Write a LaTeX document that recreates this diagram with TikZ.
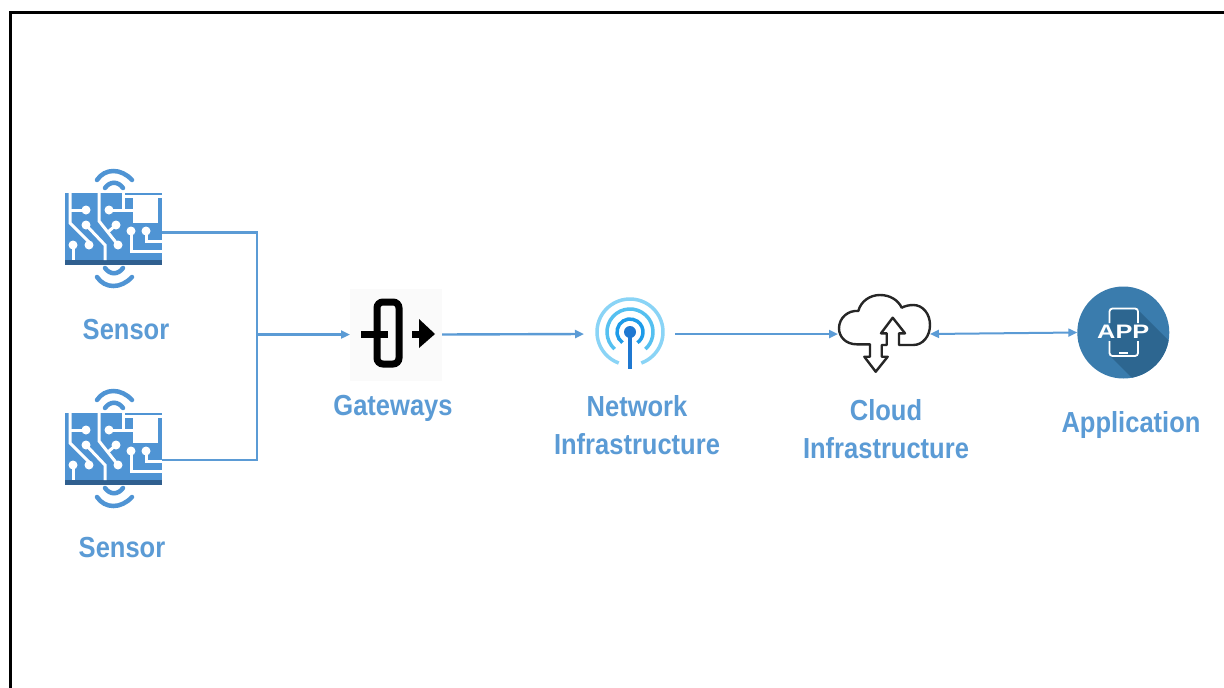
\documentclass[tikz,border=0pt]{standalone}
\usepackage{xcolor}
\usepackage{fontspec}
\setmainfont[FakeStretch=0.88]{Liberation Sans}
\newfontfamily\appfont[FakeStretch=1.3]{Liberation Sans}
\usetikzlibrary{arrows.meta}
\definecolor{wireblue}{HTML}{5B9BD5}
\definecolor{chipblue}{HTML}{4F94D4}
\definecolor{chipdark}{HTML}{2F5F8F}
\definecolor{appblue}{HTML}{3A7CAD}
\definecolor{appdark}{HTML}{2D6690}
\definecolor{ringouter}{HTML}{8AD4F6}
\definecolor{ringmiddle}{HTML}{55C0F0}
\definecolor{ringinner}{HTML}{1E9BE8}
\definecolor{mastblue}{HTML}{1F78D1}
\tikzset{
	wire/.style={wireblue, line width=2.4pt},
	flow/.style={wire, -{Triangle[length=9pt,width=8pt]}},
	duplex/.style={wire, line width=2pt, {Triangle[length=9pt,width=8pt]}-{Triangle[length=9pt,width=8pt]}},
	caption/.style={font=\fontsize{29}{38}\selectfont\bfseries, text=wireblue, align=center},
	anchorbox/.style={minimum width=#1, inner sep=0pt, outer sep=0pt},
	trace/.style={white, line width=3pt},
	sensorchip/.pic={
		\fill[chipblue] (0,0) rectangle (97,72);
		\fill[chipdark] (0,67) rectangle (97,72);
		\fill[white] (68,5) rectangle (93,30);
		% traces
		\draw[trace] (5,0) -- (5,30) -- (25,50);
		\draw[trace] (5,17) -- (21,17);
		\draw[trace] (21,32) -- (40,52) -- (40,67);
		\draw[trace] (34,0) -- (34,28) -- (53,52);
		\draw[trace] (44,17) -- (68,17);
		\draw[trace] (51,32) -- (43,39);
		\draw[trace] (58,0) -- (58,17);
		\draw[trace] (58,3) -- (97,3);
		\draw[trace] (66,38) -- (66,58) -- (97,58);
		\draw[trace] (81,38) -- (81,48) -- (97,48);
		\draw[trace] (8,52) -- (8,67);
		\foreach \dotx/\doty in {21/17,24/52,21/32,53/52,44/17,51/32,66/38,81/38,8/52}
			\fill[white] (\dotx,\doty) circle (4.5);
		% signal arcs
		\draw[chipblue, line width=4.5pt, line cap=round] (32,-13) .. controls (40,-25) and (56,-25) .. (67,-13);
		\draw[chipblue, line width=4.5pt, line cap=round] (40,-5) .. controls (45,-12) and (53,-12) .. (58,-5);
		\draw[chipblue, line width=4.5pt, line cap=round] (40,75) .. controls (45,82) and (53,82) .. (58,75);
		\draw[chipblue, line width=4.5pt, line cap=round] (32,84) .. controls (40,96) and (56,96) .. (67,84);
	}
}

\begin{document}
\begin{tikzpicture}[x=1pt, y=1pt, yscale=-1]
	\useasboundingbox (0,0) rectangle (1224,688);
	\fill[white] (0,0) rectangle (1224,688);
	\draw[black, line width=3pt] (10.5,688) -- (10.5,12.5) -- (1224,12.5);

	% Sensors
	\pic[transform shape] at (65,193) {sensorchip};
	\pic[transform shape] at (65,413) {sensorchip};
	\node[anchorbox=97, minimum height=60] (sensorA) at (113.5,232.5) {};
	\node[anchorbox=97, minimum height=60] (sensorB) at (113.5,460) {};
	\node[caption] (sensorAtext) at (126,330) {Sensor};
	\node[caption] (sensorBtext) at (122,548) {Sensor};
	\coordinate (busJoin) at (257,334.5);

	% Gateway
	\node[anchorbox=92, minimum height=92, fill=black!2] (gateway) at (396,334.5) {};
	\draw[black, line width=7pt, rounded corners=6pt] (377,302) rectangle (399,364);
	\draw[black, line width=7pt] (361,334) -- (388,334);
	\draw[black, line width=7pt] (412,334) -- (422,334);
	\fill[black] (419,319) -- (435,334) -- (419,348) -- cycle;
	\node[caption] (gatewaytext) at (393,408.5) {Gateways};

	% Network
	\node[anchorbox=91, minimum height=91] (network) at (629.5,334) {};
	\draw[ringouter, line width=3.5pt] (630,332) ++(110:33) arc (110:430:33);
	\draw[ringmiddle, line width=3.5pt] (630,332) ++(132:23) arc (132:408:23);
	\draw[ringinner, line width=3.5pt] (630,332) ++(125:13) arc (125:415:13);
	\draw[mastblue, line width=4.5pt] (630,332) -- (630,369);
	\fill[mastblue] (630,332) circle (6);
	\node[caption] (networktext) at (637,425) {Network\\Infrastructure};

	% Cloud
	\node[anchorbox=92, minimum height=92] (cloud) at (884,334) {};
	\draw[black!85, line width=2.4pt, line join=round]
		(870,344.3) -- (856.7,344.3)
		.. controls (846,344.3) and (839,337) .. (839,328.3)
		.. controls (839,318) and (848,310) .. (858.3,311)
		.. controls (861,301) and (870,295) .. (880,295)
		.. controls (890,295) and (898,300) .. (901.7,307.7)
		.. controls (905,306) and (909,305) .. (913.3,305)
		.. controls (923,305) and (930,314) .. (930,325)
		.. controls (930,336) and (923,345) .. (913.3,345)
		-- (899,345) -- (899,333.3) -- (905,333.3) -- (892.7,317.7) -- (881,333.3)
		-- (886.7,333.3) -- (886.7,345) -- (881.7,345) -- (881.7,356.7) -- (887.7,356.7)
		-- (875.7,371.7) -- (864.3,356.7) -- (870,356.7) -- cycle;
	\node[caption] (cloudtext) at (886,429.5) {Cloud\\Infrastructure};

	% Application
	\node[circle, minimum size=92, inner sep=0pt, outer sep=0pt, fill=appblue] (app) at (1123.3,332.5) {};
	\begin{scope}
		\clip (1123.3,332.5) circle (46);
		\fill[appdark] (1110,310) -- (1138,310) -- (1178,350) -- (1178,400) -- (1154,400) -- (1110,356) -- cycle;
	\end{scope}
	\draw[white, line width=1.8pt, rounded corners=3pt] (1109.5,323) -- (1109.5,308.5) -- (1138,308.5) -- (1138,323);
	\draw[white, line width=1.8pt, rounded corners=3pt] (1109.5,341) -- (1109.5,356) -- (1138,356) -- (1138,341);
	\draw[white, line width=1.5pt] (1119,353) -- (1128,353);
	\node[text=white, font=\appfont\fontsize{19.5}{20}\selectfont\bfseries, inner sep=0pt] (apptext) at (1123.3,332) {APP};
	\node[caption] (applicationtext) at (1131,424.5) {Application};

	% Links
	\draw[wire] (sensorA.east) -| (busJoin);
	\draw[wire] (sensorB.east) -| (busJoin);
	\draw[flow] (busJoin) -- (gateway.west);
	\draw[flow] (gateway.east) -- (network.west);
	\draw[flow] (network.east) -- (cloud.west);
	\draw[duplex] (cloud.east) -- (app.west);
\end{tikzpicture}
\end{document}
